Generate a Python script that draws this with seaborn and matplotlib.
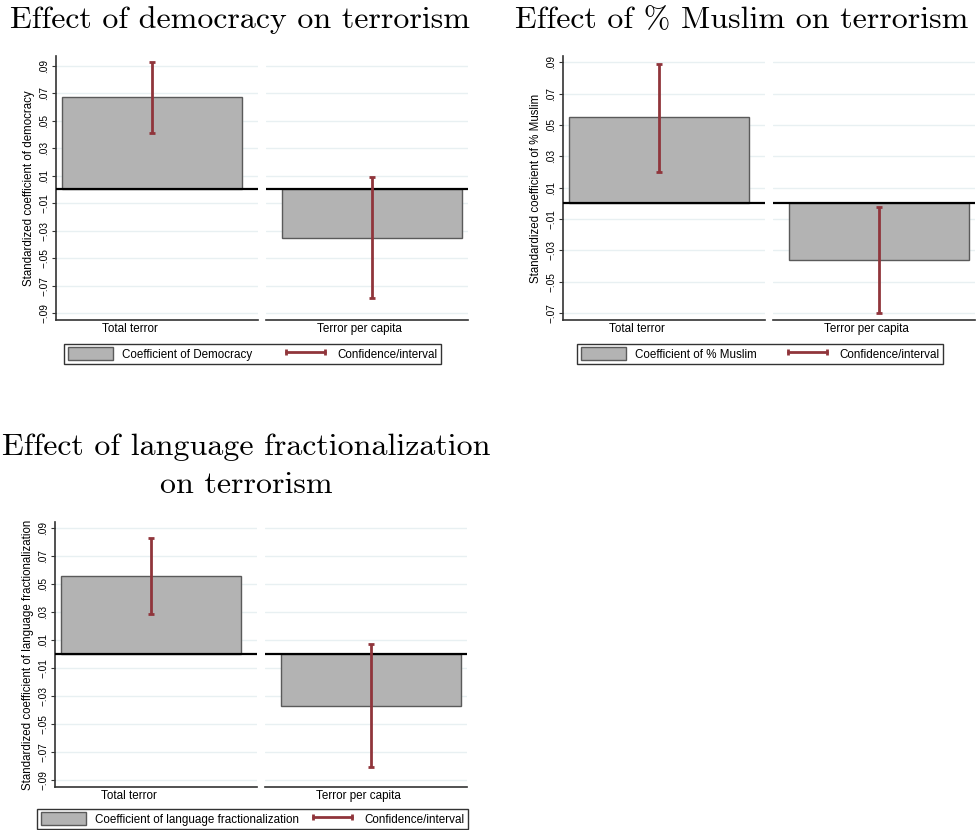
import seaborn as sns
import matplotlib.pyplot as plt
import pandas as pd
from matplotlib.patches import Patch
from matplotlib.lines import Line2D

# Data
outcomes = ['Total terror', 'Terror per capita']

democracy_coef = [0.067, -0.0354]
democracy_lo = [0.0407, -0.079]
democracy_hi = [0.093, 0.0091]

muslim_coef = [0.0548, -0.0363]
muslim_lo = [0.0201, -0.070]
muslim_hi = [0.0892, -0.0024]

language_coef = [0.0554, -0.0369]
language_lo = [0.0286, -0.0808]
language_hi = [0.0824, 0.0069]

ticks_wide = [-0.09, -0.07, -0.05, -0.03, -0.01, 0.01, 0.03, 0.05, 0.07, 0.09]
ticks_narrow = [-0.07, -0.05, -0.03, -0.01, 0.01, 0.03, 0.05, 0.07, 0.09]

BAR = '#b3b3b3'
BAR_EDGE = '#5a5a5a'
CI = '#90353b'
GRID = '#e8f0f2'

sns.set_style('white')
plt.rcParams['font.family'] = ['Liberation Sans', 'DejaVu Sans']
plt.rcParams['text.color'] = 'black'
plt.rcParams['axes.labelcolor'] = 'black'
plt.rcParams['ytick.color'] = 'black'

W, H = 977, 830
fig = plt.figure(figsize=(W / 100, H / 100), dpi=100)


def px_axes(x0, x1, y0, y1):
    return fig.add_axes([x0 / W, 1 - y1 / H, (x1 - x0) / W, (y1 - y0) / H])


def tick_label(v):
    s = ('%.2f' % abs(v)).lstrip('0')
    return ('\u2212' + s) if v < 0 else s


def draw_panel(x0, y0, y1, ylim, ticks, coef, lo, hi, ylabel, legend_label, legend_box):
    subs = [(x0, x0 + 202), (x0 + 210, x0 + 412)]
    xlims = [(-0.533, 0.589), (-0.589, 0.533)]
    label_frac = [0.366, 0.465]
    axes = []
    for i in range(2):
        ax = px_axes(subs[i][0], subs[i][1], y0, y1)
        df = pd.DataFrame({'outcome': [outcomes[i]], 'coef': [coef[i]]})
        sns.barplot(data=df, x='outcome', y='coef', ax=ax, color=BAR, width=1.0,
                    saturation=1, edgecolor=BAR_EDGE, linewidth=1.0, errorbar=None,
                    zorder=2)
        ax.errorbar([0], [coef[i]], yerr=[[coef[i] - lo[i]], [hi[i] - coef[i]]],
                    fmt='none', ecolor=CI, elinewidth=2.0, capsize=2.3, capthick=2.0,
                    zorder=4)
        ax.axhline(0, color='black', lw=1.6, zorder=3)
        ax.set_xlim(*xlims[i])
        ax.set_ylim(*ylim)
        ax.set_xticks([])
        ax.set_xlabel('')
        ax.set_ylabel('')
        ax.set_yticks(ticks)
        ax.yaxis.grid(True, color=GRID, lw=1.0, zorder=0)
        ax.set_axisbelow(True)
        for s in ['top', 'right']:
            ax.spines[s].set_visible(False)
        ax.spines['bottom'].set_color('#333333')
        ax.spines['bottom'].set_linewidth(1.2)
        if i == 0:
            ax.spines['left'].set_color('#333333')
            ax.spines['left'].set_linewidth(1.2)
            ax.set_yticklabels([tick_label(t) for t in ticks], rotation=90,
                               va='center', fontsize=7.3)
            ax.tick_params(axis='y', left=True, length=3, width=0.8,
                           color='#333333', pad=2)
            ax.set_ylabel(ylabel, fontsize=8.3, labelpad=3)
        else:
            ax.spines['left'].set_visible(False)
            ax.tick_params(axis='y', left=False, labelleft=False)
        ax.text(label_frac[i], -0.012, outcomes[i], transform=ax.transAxes,
                ha='center', va='top', fontsize=8.4)
        axes.append(ax)

    handles = [Patch(facecolor=BAR, edgecolor=BAR_EDGE, linewidth=1.0),
               Line2D([0, 1], [0, 1], color=CI, lw=2.0, marker='|', markersize=5,
                      markeredgewidth=2.0)]
    bx0, bx1, by0, by1 = legend_box
    leg = fig.legend(handles, [legend_label, 'Confidence/interval'], ncol=2,
                     loc='lower left', mode='expand',
                     bbox_to_anchor=(bx0 / W, 1 - by1 / H, (bx1 - bx0) / W, (by1 - by0) / H),
                     borderaxespad=0, fontsize=8.4, frameon=True, fancybox=False,
                     handlelength=3.9, handleheight=1.3, numpoints=2,
                     borderpad=0.3, columnspacing=1.5, handletextpad=0.8)
    leg.get_frame().set_edgecolor('black')
    leg.get_frame().set_linewidth(1.0)
    return axes


draw_panel(56, 56, 320, (-0.095, 0.097), ticks_wide, democracy_coef, democracy_lo,
           democracy_hi, 'Standardized coefficient of democracy',
           'Coefficient of Democracy', (64, 441, 342, 364))
draw_panel(563, 56, 320, (-0.0745, 0.094), ticks_narrow, muslim_coef, muslim_lo,
           muslim_hi, 'Standardized coefficient of % Muslim',
           'Coefficient of % Muslim', (577, 943, 342, 364))
draw_panel(55, 522, 787, (-0.0947, 0.094), ticks_wide, language_coef, language_lo,
           language_hi, 'Standardized coefficient of language fractionalization',
           'Coefficient of language fractionalization', (37, 468, 808, 829))

title_kw = dict(fontfamily='cmr10', fontsize=23, ha='center', va='baseline',
                color='black')
fig.text(240 / W, 1 - 28 / H, 'Effect of democracy on terrorism', **title_kw)
fig.text(742 / W, 1 - 28 / H, 'Effect of % Muslim on terrorism', **title_kw)
fig.text(246 / W, 1 - 455 / H, 'Effect of language fractionalization', **title_kw)
fig.text(246 / W, 1 - 493 / H, 'on terrorism', **title_kw)

fig.savefig('out.png', dpi=100)
